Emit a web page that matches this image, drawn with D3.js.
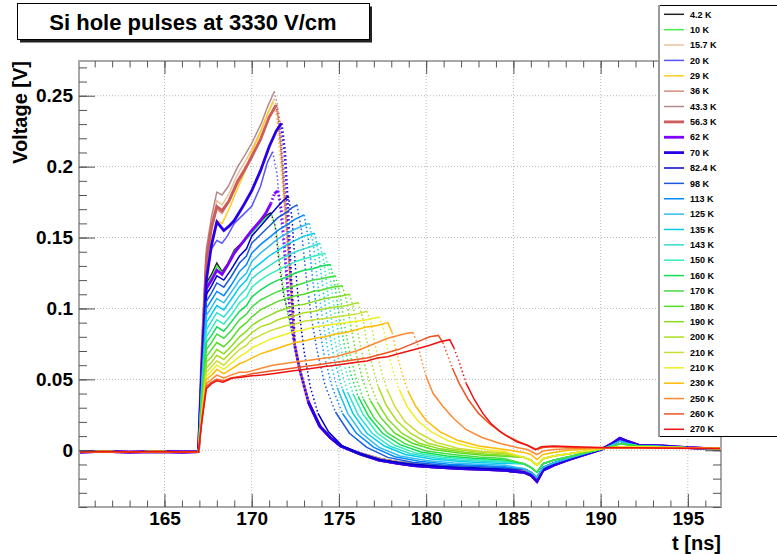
<!DOCTYPE html>
<html>
<head>
<meta charset="utf-8">
<script src="https://cdn.jsdelivr.net/npm/d3@7"></script>
<style>
    body { margin: 0; background: #fff; }
    #chart { width: 777px; height: 554px; }
    text { font-family: "Liberation Sans", Arial, Helvetica, sans-serif; font-weight: bold; }
</style>
</head>
<body>
<div id="chart"></div>
<script>

// ---- data: [t (ns), voltage (V)] ----

const labels = ["4.2 K","10 K","15.7 K","20 K","29 K","36 K","43.3 K","56.3 K","62 K","70 K","82.4 K","98 K","113 K","125 K",
    "135 K","143 K","150 K","160 K","170 K","180 K","190 K","200 K","210 K","210 K","230 K","250 K","260 K","270 K"];

const xTicks = [165, 170, 175, 180, 185, 190, 195];
const xTickLabels = ["165", "170", "175", "180", "185", "190", "195"];
const yTicks = [0, 0.05, 0.1, 0.15, 0.2, 0.25];
const yTickLabels = ["0", "0.05", "0.1", "0.15", "0.2", "0.25"];

// baseline before the pulse (same for every temperature)
const preTrigger = [[160.1,-0.0012],[161.5,-0.0008],[163,-0.0013],[164.5,-0.0009],[166,-0.0012],[166.95,-0.001]];

// tails of the cold pulses after they merge
const coldTailA = [[172.45,0.075],[172.75,0.057],[173.25,0.034],[173.9,0.017],[174.5,0.009],[175.1,0.003],[176.2,-0.0025],
    [177.3,-0.007],[178.3,-0.009],[179.3,-0.0108],[180.5,-0.0118],[182,-0.013],[183.3,-0.0135],[184.5,-0.0142],[185.6,-0.0155],
    [186.0,-0.0175],[186.35,-0.022],[186.7,-0.014],[187.3,-0.0105],[188.2,-0.0065],[189.2,-0.0025],[190.1,0.001],[190.7,0.005],
    [191.1,0.0085],[191.5,0.0065],[192.2,0.0035],[193.5,0.003],[195,0.0018],[196.9,0.0008]];
const coldTailB = [[172.5,0.072],[172.85,0.052],[173.35,0.031],[174,0.016],[174.6,0.008],[175.2,0.0025],[176.3,-0.002],
    [177.4,-0.006],[178.4,-0.008],[179.4,-0.0095],[180.6,-0.0105],[182,-0.0115],[183.3,-0.012],[184.5,-0.0128],[185.6,-0.014],
    [186.0,-0.016],[186.35,-0.0195],[186.7,-0.0125],[187.3,-0.0095],[188.2,-0.006],[189.2,-0.002],[190.1,0.0012],[190.7,0.0045],
    [191.1,0.0075],[191.5,0.006],[192.2,0.0035],[193.5,0.0028],[195,0.0017],[196.9,0.0008]];
const endMid1 = [[185.6,-0.013],[186.0,-0.0155],[186.35,-0.019],[186.7,-0.012],[187.3,-0.009],[188.2,-0.0055],[189.2,-0.002],
    [190.1,0.001],[190.7,0.004],[191.1,0.0065],[191.5,0.005],[192.2,0.003],[193.5,0.0026],[195,0.0016],[196.9,0.0008]];
const endMid2 = [[185.6,-0.0095],[186.0,-0.012],[186.35,-0.0155],[186.7,-0.0095],[187.3,-0.007],[188.2,-0.0045],[189.2,-0.0015],
    [190.1,0.001],[190.7,0.003],[191.1,0.0045],[191.5,0.004],[192.2,0.003],[193.5,0.0025],[195,0.0018],[196.9,0.001]];
const endMid3 = [[185.6,-0.005],[186.0,-0.007],[186.35,-0.0105],[186.7,-0.006],[187.3,-0.004],[188.2,-0.0025],[189.2,-0.0005],
    [190.1,0.0012],[191.1,0.0025],[192.2,0.0025],[193.5,0.0022],[195,0.0018],[196.9,0.0012]];

const p4_2 = [[167.15,0.06],[167.4,0.118],[167.7,0.124],[168.0,0.132],[168.3,0.126],[168.6,0.131],[169.0,0.141],[169.5,0.147],
    [170.0,0.154],[170.5,0.161],[170.9,0.166],[171.1,0.1675],[171.35,0.158],[171.6,0.129],[171.85,0.108],[172.1,0.097]];
const p10 = [[167.15,0.058],[167.4,0.116],[167.7,0.122],[168.0,0.13],[168.3,0.125],[168.6,0.13],[169.0,0.14],[169.5,0.146],
    [170.0,0.153],[170.5,0.16],[170.9,0.165],[171.15,0.166],[171.4,0.155],[171.7,0.125],[172.0,0.1],[172.2,0.088]];
const p15_7 = [[167.15,0.07],[167.4,0.138],[167.7,0.16],[168.0,0.176],[168.3,0.173],[168.7,0.181],[169.2,0.195],[169.6,0.203],
    [170.0,0.212],[170.5,0.225],[171.0,0.24],[171.3,0.248],[171.45,0.24],[171.65,0.215],[171.85,0.18],[172.05,0.145],[172.3,0.105]];
const p20 = [[167.15,0.07],[167.4,0.135],[167.7,0.142],[168.0,0.148],[168.3,0.146],[168.6,0.151],[169.0,0.16],[169.5,0.166],
    [170.0,0.172],[170.5,0.186],[170.9,0.203],[171.2,0.2105],[171.45,0.195],[171.7,0.16],[171.95,0.125],[172.2,0.095]];
const p29 = [[167.15,0.065],[167.4,0.125],[167.7,0.148],[168.0,0.162],[168.3,0.16],[168.7,0.17],[169.2,0.185],[169.6,0.196],
    [170.0,0.21],[170.5,0.224],[170.9,0.237],[171.2,0.245],[171.4,0.238],[171.6,0.21],[171.8,0.18],[172.0,0.15],[172.2,0.115]];
const p36 = [[167.15,0.068],[167.4,0.13],[167.7,0.155],[168.0,0.17],[168.3,0.167],[168.7,0.175],[169.2,0.188],[169.6,0.197],
    [170.0,0.206],[170.5,0.22],[171.0,0.234],[171.35,0.242],[171.5,0.236],[171.7,0.208],[171.9,0.175],[172.1,0.14],[172.3,0.105]];
const p43_3 = [[167.15,0.075],[167.4,0.142],[167.7,0.165],[168.0,0.182],[168.3,0.18],[168.65,0.186],[169.2,0.2],[169.6,0.208],
    [170.0,0.2165],[170.55,0.2305],[170.9,0.242],[171.3,0.253],[171.45,0.245],[171.6,0.226],[171.8,0.195],[172.0,0.16],[172.2,0.128],[172.35,0.1]];
const p56_3 = [[167.15,0.07],[167.4,0.135],[167.7,0.158],[168.0,0.172],[168.3,0.169],[168.7,0.176],[169.2,0.19],[169.6,0.198],
    [170.0,0.207],[170.5,0.219],[171.0,0.235],[171.4,0.2435],[171.55,0.235],[171.75,0.205],[171.95,0.17],[172.15,0.135],[172.35,0.1]];
const p62 = [[167.15,0.057],[167.4,0.114],[167.7,0.12],[168.0,0.127],[168.3,0.124],[168.6,0.13],[169.0,0.139],[169.5,0.147],
    [170.0,0.155],[170.5,0.162],[170.8,0.167],[171.1,0.174],[171.3,0.181],[171.5,0.183],[171.7,0.17],[171.9,0.14],[172.1,0.11],[172.3,0.088]];
const p70 = [[167.15,0.06],[167.4,0.12],[167.7,0.145],[168.0,0.161],[168.4,0.155],[168.7,0.158],[169.0,0.162],[169.5,0.172],
    [170.0,0.183],[170.5,0.197],[171.0,0.214],[171.4,0.225],[171.7,0.2305],[171.9,0.21],[172.05,0.175],[172.25,0.12],[172.4,0.09]];
const p82_4 = [[167.15,0.055],[167.4,0.11],[167.7,0.116],[168.0,0.123],[168.4,0.12],[168.8,0.127],[169.3,0.137],[169.7,0.142],
    [170.0,0.151],[170.5,0.158],[171.0,0.165],[171.5,0.172],[171.8,0.176],[172.1,0.179],[172.3,0.165],[172.5,0.13],[172.75,0.095],
    [173.0,0.07],[173.35,0.045],[173.8,0.026],[174.4,0.013],[175.2,0.003],[176.3,-0.003],[177.5,-0.007],[179,-0.0095],[181,-0.0115],
    [183,-0.0125],[184.5,-0.0132]];
const p98 = [[167.15,0.052],[167.4,0.105],[167.7,0.111],[168.0,0.118],[168.4,0.115],[168.8,0.122],[169.3,0.132],[169.7,0.137],
    [170.0,0.146],[170.5,0.152],[171.0,0.158],[171.5,0.164],[172.0,0.168],[172.3,0.171],[172.6,0.173],[172.85,0.155],[173.1,0.125],
    [173.4,0.095],[173.75,0.07],[174.2,0.046],[174.8,0.027],[175.6,0.012],[176.6,0.002],[177.8,-0.005],[179.2,-0.0085],[181,-0.0105],
    [183,-0.0115],[184.5,-0.0123]];
const p113 = [[167.15,0.05],[167.4,0.1],[167.7,0.106],[168.0,0.112],[168.4,0.109],[168.8,0.116],[169.3,0.126],[169.7,0.131],
    [170.0,0.139],[170.5,0.145],[171.0,0.15],[171.5,0.155],[172.0,0.159],[172.5,0.163],[173.0,0.166],[173.25,0.149],[173.5,0.12],
    [173.8,0.092],[174.15,0.067],[174.6,0.045],[175.2,0.026],[176.0,0.012],[177.0,0.002],[178.2,-0.0045],[179.6,-0.0078],[181.3,-0.0098],
    [183,-0.0108],[184.5,-0.0116]];
const p125 = [[167.15,0.048],[167.4,0.095],[167.7,0.101],[168.0,0.107],[168.4,0.104],[168.8,0.111],[169.3,0.12],[169.7,0.125],
    [170.0,0.133],[170.5,0.139],[171.0,0.144],[171.5,0.149],[172.0,0.153],[172.5,0.156],[172.9,0.158],[173.3,0.16],[173.55,0.144],
    [173.8,0.116],[174.1,0.089],[174.45,0.065],[174.9,0.044],[175.5,0.026],[176.3,0.012],[177.3,0.002],[178.5,-0.004],[180,-0.0072],
    [181.6,-0.009],[183,-0.0098],[184.5,-0.0105]];
const p135 = [[167.15,0.045],[167.4,0.09],[167.7,0.096],[168.0,0.102],[168.4,0.099],[168.8,0.106],[169.3,0.115],[169.7,0.12],
    [170.0,0.127],[170.5,0.132],[171.0,0.137],[171.5,0.141],[172.0,0.145],[172.5,0.148],[173.0,0.151],[173.6,0.153],[173.85,0.138],
    [174.1,0.112],[174.4,0.086],[174.75,0.063],[175.2,0.043],[175.8,0.026],[176.6,0.012],[177.6,0.003],[178.8,-0.003],[180.3,-0.0062],
    [182,-0.008],[183.3,-0.0088],[184.5,-0.0093]];
const p143 = [[167.15,0.043],[167.4,0.085],[167.7,0.091],[168.0,0.097],[168.4,0.094],[168.8,0.1],[169.3,0.109],[169.7,0.114],
    [170.0,0.121],[170.5,0.126],[171.0,0.13],[171.5,0.134],[172.0,0.137],[172.5,0.14],[173.0,0.142],[173.5,0.144],[173.9,0.146],
    [174.15,0.132],[174.4,0.107],[174.7,0.082],[175.05,0.06],[175.5,0.041],[176.1,0.025],[176.9,0.012],[177.9,0.003],[179.1,-0.0025],
    [180.6,-0.0055],[182.2,-0.0072],[183.5,-0.008],[184.5,-0.0085]];
const p150 = [[167.15,0.04],[167.4,0.08],[167.7,0.086],[168.0,0.092],[168.4,0.089],[168.8,0.095],[169.3,0.104],[169.7,0.108],
    [170.0,0.115],[170.5,0.12],[171.0,0.124],[171.5,0.127],[172.0,0.13],[172.5,0.133],[173.0,0.135],[173.6,0.137],[174.2,0.139],
    [174.45,0.126],[174.7,0.102],[175.0,0.079],[175.35,0.058],[175.8,0.04],[176.4,0.025],[177.2,0.012],[178.2,0.0035],[179.4,-0.002],
    [180.9,-0.0048],[182.4,-0.0064],[183.6,-0.0072],[184.5,-0.0077]];
const p160 = [[167.15,0.038],[167.4,0.076],[167.7,0.081],[168.0,0.087],[168.4,0.084],[168.8,0.09],[169.3,0.098],[169.7,0.102],
    [170.0,0.108],[170.5,0.113],[171.0,0.117],[171.5,0.12],[172.0,0.122],[172.5,0.125],[173.0,0.127],[173.5,0.128],[174.0,0.13],
    [174.5,0.131],[174.75,0.118],[175.0,0.096],[175.3,0.075],[175.65,0.055],[176.1,0.038],[176.7,0.024],[177.5,0.012],[178.5,0.004],
    [179.7,-0.0012],[181.2,-0.004],[182.7,-0.0056],[183.8,-0.0064],[184.5,-0.0068]];
const p170 = [[167.15,0.036],[167.4,0.071],[167.7,0.076],[168.0,0.082],[168.4,0.079],[168.8,0.084],[169.3,0.092],[169.7,0.096],
    [170.0,0.101],[170.5,0.106],[171.0,0.109],[171.5,0.112],[172.0,0.114],[172.5,0.116],[173.0,0.118],[173.5,0.12],[174.0,0.121],
    [174.4,0.122],[174.8,0.123],[175.05,0.111],[175.3,0.09],[175.6,0.07],[175.95,0.052],[176.4,0.036],[177.0,0.023],[177.8,0.012],
    [178.8,0.0045],[180,-0.0005],[181.5,-0.003],[183,-0.0047],[184.5,-0.0058]];
const p180 = [[167.15,0.033],[167.4,0.066],[167.7,0.071],[168.0,0.076],[168.4,0.073],[168.8,0.078],[169.3,0.086],[169.7,0.09],
    [170.0,0.094],[170.5,0.099],[171.0,0.102],[171.5,0.105],[172.0,0.107],[172.5,0.109],[173.0,0.11],[173.5,0.112],[174.0,0.113],
    [174.6,0.115],[175.2,0.116],[175.45,0.105],[175.7,0.086],[176.0,0.067],[176.35,0.05],[176.8,0.035],[177.4,0.023],[178.2,0.012],
    [179.2,0.005],[180.4,0.0005],[181.9,-0.002],[183.3,-0.0035],[184.5,-0.0043]];
const p190 = [[167.15,0.031],[167.4,0.062],[167.7,0.066],[168.0,0.071],[168.4,0.068],[168.8,0.073],[169.3,0.08],[169.7,0.084],
    [170.0,0.088],[170.5,0.092],[171.0,0.095],[171.5,0.098],[172.0,0.1],[172.5,0.102],[173.0,0.103],[173.6,0.105],[174.2,0.107],
    [174.8,0.108],[175.2,0.109],[175.6,0.11],[175.85,0.1],[176.1,0.082],[176.4,0.064],[176.75,0.048],[177.2,0.034],[177.8,0.022],
    [178.6,0.012],[179.6,0.005],[180.8,0.001],[182.3,-0.0015],[183.5,-0.0028],[184.5,-0.0035]];
const p200 = [[167.15,0.029],[167.4,0.058],[167.7,0.062],[168.0,0.067],[168.4,0.064],[168.8,0.069],[169.3,0.075],[169.7,0.079],
    [170.0,0.083],[170.5,0.087],[171.0,0.089],[171.5,0.092],[172.0,0.094],[172.5,0.095],[173.0,0.097],[173.6,0.098],[174.2,0.1],
    [174.8,0.101],[175.4,0.102],[176.1,0.104],[176.35,0.094],[176.6,0.077],[176.9,0.06],[177.25,0.045],[177.7,0.032],[178.3,0.021],
    [179.1,0.012],[180.1,0.005],[181.3,0.0012],[182.8,-0.001],[184.5,-0.0025]];
const p210a = [[167.15,0.027],[167.4,0.055],[167.7,0.059],[168.0,0.063],[168.4,0.06],[168.8,0.065],[169.3,0.071],[169.7,0.074],
    [170.0,0.078],[170.5,0.081],[171.0,0.084],[171.5,0.086],[172.0,0.088],[172.5,0.089],[173.0,0.091],[173.6,0.092],[174.2,0.093],
    [174.8,0.094],[175.4,0.095],[176.0,0.096],[176.6,0.098],[176.85,0.089],[177.1,0.073],[177.4,0.057],[177.75,0.043],[178.2,0.031],
    [178.8,0.02],[179.6,0.012],[180.6,0.0055],[181.8,0.0015],[183.2,-0.0008],[184.5,-0.0018]];
const p210b = [[167.15,0.026],[167.4,0.052],[167.7,0.056],[168.0,0.06],[168.4,0.057],[168.8,0.061],[169.3,0.066],[169.7,0.069],
    [170.0,0.072],[170.5,0.075],[171.0,0.078],[171.5,0.08],[172.0,0.082],[172.5,0.084],[173.0,0.085],[173.6,0.087],[174.2,0.088],
    [174.8,0.089],[175.4,0.09],[176.0,0.091],[176.6,0.092],[177.3,0.094],[177.55,0.086],[177.8,0.071],[178.1,0.056],[178.45,0.043],
    [178.9,0.031],[179.5,0.021],[180.3,0.013],[181.3,0.0065],[182.5,0.0025],[183.6,0.0002],[184.5,-0.0008]];
const p230 = [[167.15,0.025],[167.4,0.05],[167.7,0.053],[168.0,0.057],[168.4,0.054],[168.8,0.057],[169.3,0.061],[169.7,0.063],
    [170.0,0.065],[170.5,0.068],[171.0,0.07],[171.5,0.072],[172.0,0.074],[172.5,0.076],[173.0,0.077],[173.6,0.079],[174.2,0.08],
    [174.8,0.082],[175.4,0.083],[176.0,0.085],[176.6,0.087],[177.2,0.088],[177.8,0.09],[178.05,0.083],[178.3,0.069],[178.6,0.055],
    [178.95,0.042],[179.4,0.031],[180.0,0.021],[180.8,0.013],[181.8,0.007],[183.0,0.003],[184.5,0.0005],[185.6,-0.0015],[186.0,-0.003],
    [186.35,-0.0065],[186.7,-0.003],[187.3,-0.0015],[188.2,0],[189.5,0.001],[191,0.0018],[193,0.002],[195,0.0017],[196.9,0.0012]];
const p250 = [[167.15,0.023],[167.4,0.047],[167.7,0.05],[168.0,0.053],[168.4,0.051],[168.8,0.053],[169.3,0.055],[169.7,0.055],
    [170.0,0.056],[170.6,0.058],[171.2,0.06],[171.8,0.061],[172.4,0.062],[173.0,0.063],[173.6,0.064],[174.2,0.065],[174.8,0.066],
    [175.4,0.068],[176.0,0.07],[176.6,0.073],[177.2,0.076],[177.8,0.079],[178.4,0.081],[178.9,0.0825],[179.25,0.083],[179.5,0.075],
    [179.75,0.063],[180.0,0.052],[180.4,0.04],[180.95,0.031],[181.6,0.022],[182.3,0.0145],[183.2,0.009],[184.2,0.005],[185.2,0.002],
    [185.8,0.0005],[186.35,-0.003],[186.7,-0.0005],[187.3,0.0005],[188.5,0.0012],[190,0.0015],[192,0.0018],[194,0.0016],[196.9,0.0012]];
const p260 = [[167.15,0.022],[167.4,0.045],[167.7,0.048],[168.0,0.05],[168.4,0.049],[168.8,0.051],[169.3,0.052],[169.7,0.053],
    [170.0,0.054],[170.6,0.055],[171.2,0.056],[171.8,0.057],[172.4,0.058],[173.0,0.059],[173.6,0.06],[174.2,0.061],[174.8,0.062],
    [175.4,0.063],[176.0,0.064],[176.6,0.065],[177.2,0.067],[177.8,0.069],[178.4,0.071],[179.0,0.074],[179.6,0.077],[180.2,0.08],
    [180.7,0.081],[180.95,0.076],[181.2,0.068],[181.5,0.058],[181.9,0.047],[182.4,0.036],[183.0,0.026],[183.7,0.018],[184.5,0.011],
    [185.3,0.006],[185.9,0.003],[186.35,0.0005],[186.7,0.002],[187.3,0.0025],[188.5,0.002],[190,0.0018],[192,0.0018],[194,0.0015],[196.9,0.0012]];
const p270 = [[167.15,0.021],[167.4,0.0435],[167.7,0.047],[168.0,0.049],[168.35,0.048],[168.9,0.051],[169.4,0.0515],[170.0,0.0525],
    [170.6,0.053],[171.2,0.054],[171.8,0.055],[172.4,0.056],[173.0,0.057],[173.6,0.058],[174.2,0.059],[174.8,0.06],[175.4,0.061],
    [176.0,0.062],[176.6,0.063],[177.2,0.065],[177.8,0.066],[178.4,0.068],[179.0,0.07],[179.6,0.072],[180.2,0.074],[180.8,0.0765],
    [181.35,0.078],[181.6,0.072],[181.9,0.062],[182.3,0.047],[182.75,0.036],[183.25,0.026],[183.7,0.019],[184.2,0.0135],[184.7,0.0095],
    [185.2,0.006],[185.8,0.0035],[186.25,0.0005],[186.6,0.0025],[187.3,0.003],[188.5,0.0025],[190,0.002],[192,0.0018],[194,0.0015],[196.9,0.0012]];

const series = [
    preTrigger.concat(p4_2, coldTailA),
    preTrigger.concat(p10, coldTailB),
    preTrigger.concat(p15_7, coldTailB),
    preTrigger.concat(p20, coldTailB),
    preTrigger.concat(p29, coldTailB),
    preTrigger.concat(p36, coldTailA),
    preTrigger.concat(p43_3, coldTailB),
    preTrigger.concat(p56_3, coldTailA),
    preTrigger.concat(p62, coldTailA),
    preTrigger.concat(p70, coldTailA),
    preTrigger.concat(p82_4, endMid1),
    preTrigger.concat(p98, endMid1),
    preTrigger.concat(p113, endMid1),
    preTrigger.concat(p125, endMid1),
    preTrigger.concat(p135, endMid2),
    preTrigger.concat(p143, endMid2),
    preTrigger.concat(p150, endMid2),
    preTrigger.concat(p160, endMid2),
    preTrigger.concat(p170, endMid2),
    preTrigger.concat(p180, endMid3),
    preTrigger.concat(p190, endMid3),
    preTrigger.concat(p200, endMid3),
    preTrigger.concat(p210a, endMid3),
    preTrigger.concat(p210b, endMid3),
    preTrigger.concat(p230),
    preTrigger.concat(p250),
    preTrigger.concat(p260),
    preTrigger.concat(p270)
];

// ---- styles ----
const colors = ["#222222","#44ee44","#e8c49a","#5555ff","#ffcc22","#d98a7c","#b48a8a","#cd5c5c","#8000ff","#2800e8",
    "#0000cc","#1a5ae0","#0088ff","#33bbee","#00ccee","#33ddcc","#33eebb","#11dd55","#44dd44","#55dd22",
    "#88dd22","#aadd22","#ccdd33","#eeee22","#ffbb00","#ff8833","#ee5522","#ee1111"];
const thick = ["56.3 K", "62 K", "70 K"];

const width = 777;
const height = 554;

const frame = { left: 79, right: 721, top: 61, bottom: 507 };

const svg = d3.select("#chart")
    .append("svg")
    .attr("width", width)
    .attr("height", height);

const xScale = d3.scaleLinear()
    .domain([160.1, 196.9])
    .range([frame.left, frame.right]);

const yScale = d3.scaleLinear()
    .domain([-0.04, 0.2745])
    .range([frame.bottom, frame.top]);

svg.append("clipPath")
    .attr("id", "clip")
    .append("rect")
        .attr("x", frame.left)
        .attr("y", frame.top)
        .attr("width", frame.right - frame.left)
        .attr("height", frame.bottom - frame.top);

// grid
const grid = svg.append("g").attr("stroke", "#b8b8b8").attr("stroke-dasharray", "1,2").attr("stroke-width", 1);
xTicks.forEach(function(t) {
    grid.append("line")
        .attr("x1", xScale(t)).attr("x2", xScale(t))
        .attr("y1", frame.top).attr("y2", frame.bottom);
});
yTicks.forEach(function(v) {
    grid.append("line")
        .attr("x1", frame.left).attr("x2", frame.right)
        .attr("y1", yScale(v)).attr("y2", yScale(v));
});

// curves: steep stretches look dotted in the original (sparse samples)
const line = d3.line();
const plot = svg.append("g").attr("clip-path", "url(#clip)");

series.forEach(function(pts, i) {
    const w = thick.includes(labels[i]) ? 2.8 : 1.5;
    const px = pts.map(function(d) { return [xScale(d[0]), yScale(d[1])]; });
    let run = [px[0]];
    let steep = null;
    function emit(r, s) {
        plot.append("path")
            .attr("d", line(r))
            .attr("fill", "none")
            .attr("stroke", colors[i])
            .attr("stroke-width", w)
            .attr("stroke-dasharray", s ? "1.5,2.5" : null);
    }
    for (let k = 1; k < px.length; k++) {
        const s = Math.abs(px[k][1] - px[k-1][1]) > 2.5 * Math.abs(px[k][0] - px[k-1][0]) && Math.abs(px[k][1] - px[k-1][1]) > 8 && px[k][0] > xScale(171);
        if (steep === null) steep = s;
        if (s !== steep) {
            emit(run, steep);
            run = [px[k-1]];
            steep = s;
        }
        run.push(px[k]);
    }
    emit(run, steep);
});

// frame
svg.append("rect")
    .attr("x", frame.left)
    .attr("y", frame.top)
    .attr("width", frame.right - frame.left)
    .attr("height", frame.bottom - frame.top)
    .attr("fill", "none")
    .attr("stroke", "#a8a8a8")
    .attr("stroke-width", 2);

// axes (ticks inside, on all four sides)
const xMinor = d3.range(161, 197);
const yMinor = d3.range(-4, 28).map(function(i) { return i / 100; });

function styleAxis(g) {
    g.select(".domain").remove();
    g.selectAll(".tick line").attr("stroke", "#555");
}

svg.append("g").attr("transform", "translate(0," + frame.bottom + ")")
    .call(d3.axisBottom(xScale).tickValues(xMinor).tickSize(-6.5).tickFormat(""))
    .call(styleAxis);
svg.append("g").attr("transform", "translate(0," + frame.top + ")")
    .call(d3.axisTop(xScale).tickValues(xMinor).tickSize(-6.5).tickFormat(""))
    .call(styleAxis);
svg.append("g").attr("transform", "translate(0," + frame.bottom + ")")
    .call(d3.axisBottom(xScale).tickValues(xTicks).tickSize(-13).tickPadding(5)
        .tickFormat(function(d, i) { return xTickLabels[i]; }))
    .call(styleAxis)
    .selectAll("text")
        .attr("font-size", 19)
        .attr("fill", "#000");
svg.append("g").attr("transform", "translate(0," + frame.top + ")")
    .call(d3.axisTop(xScale).tickValues(xTicks).tickSize(-13).tickFormat(""))
    .call(styleAxis);

svg.append("g").attr("transform", "translate(" + frame.left + ",0)")
    .call(d3.axisLeft(yScale).tickValues(yMinor).tickSize(-8).tickFormat(""))
    .call(styleAxis);
svg.append("g").attr("transform", "translate(" + frame.right + ",0)")
    .call(d3.axisRight(yScale).tickValues(yMinor).tickSize(-8).tickFormat(""))
    .call(styleAxis);
svg.append("g").attr("transform", "translate(" + frame.left + ",0)")
    .call(d3.axisLeft(yScale).tickValues(yTicks).tickSize(-16).tickPadding(6)
        .tickFormat(function(d, i) { return yTickLabels[i]; }))
    .call(styleAxis)
    .selectAll("text")
        .attr("font-size", 19)
        .attr("fill", "#000");
svg.append("g").attr("transform", "translate(" + frame.right + ",0)")
    .call(d3.axisRight(yScale).tickValues(yTicks).tickSize(-16).tickFormat(""))
    .call(styleAxis);

svg.selectAll(".tick text").attr("font-family", "'Liberation Sans', Arial, sans-serif").attr("font-weight", "bold");

// axis titles
svg.append("text")
    .attr("x", frame.right)
    .attr("y", 550)
    .attr("text-anchor", "end")
    .attr("font-size", 20)
    .text("t [ns]");

svg.append("text")
    .attr("transform", "rotate(-90)")
    .attr("x", -frame.top)
    .attr("y", 27)
    .attr("text-anchor", "end")
    .attr("font-size", 20)
    .text("Voltage [V]");

// title box
svg.append("rect")
    .attr("x", 20).attr("y", 6.5)
    .attr("width", 352).attr("height", 36)
    .attr("fill", "#222");
svg.append("rect")
    .attr("x", 17.5).attr("y", 3.5)
    .attr("width", 352).attr("height", 36)
    .attr("fill", "#fff")
    .attr("stroke", "#000")
    .attr("stroke-width", 1);
svg.append("text")
    .attr("x", 193)
    .attr("y", 30)
    .attr("text-anchor", "middle")
    .attr("font-size", 22)
    .text("Si hole pulses at 3330 V/cm");

// legend
const legend = svg.append("g");
legend.append("rect")
    .attr("x", 659.5).attr("y", 5.5)
    .attr("width", 130).attr("height", 431)
    .attr("fill", "#fff")
    .attr("stroke", "#000")
    .attr("stroke-width", 1);
legend.append("line")
    .attr("x1", 659).attr("x2", 659)
    .attr("y1", 5).attr("y2", 437)
    .attr("stroke", "#999")
    .attr("stroke-width", 2);

labels.forEach(function(name, i) {
    const yy = 14.3 + i * 15.37;
    legend.append("line")
        .attr("x1", 664).attr("x2", 684)
        .attr("y1", yy).attr("y2", yy)
        .attr("stroke", colors[i])
        .attr("stroke-width", thick.includes(name) ? 2.8 : 1.5);
    legend.append("text")
        .attr("x", 690)
        .attr("y", yy + 3.2)
        .attr("font-size", 9)
        .text(name);
});

</script>
</body>
</html>
